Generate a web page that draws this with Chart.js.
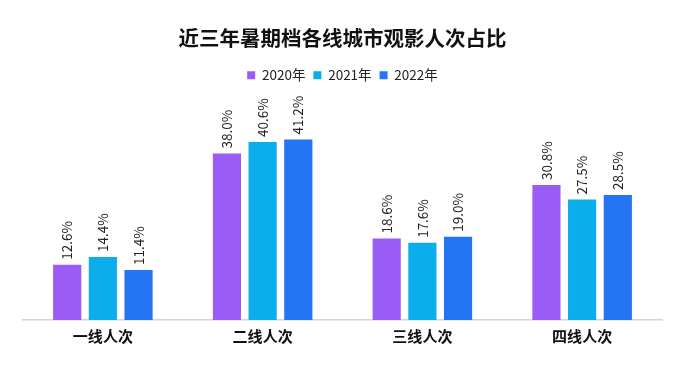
<!DOCTYPE html>
<html>
<head>
<meta charset="utf-8">
<script src="https://cdn.jsdelivr.net/npm/chart.js@4.4.1/dist/chart.umd.min.js"></script>
<style>
  body { margin: 0; background: #fff; }
  #wrap { width: 700px; height: 371px; }
</style>
</head>
<body>
<div id="wrap"><canvas id="chart" width="700" height="371"></canvas></div>
<script>
const categories = ["一线人次", "二线人次", "三线人次", "四线人次"];
const share2020 = [12.6, 38.0, 18.6, 30.8];
const share2021 = [14.4, 40.6, 17.6, 27.5];
const share2022 = [11.4, 41.2, 19.0, 28.5];

const fontFamily = "'Noto Sans CJK SC', 'Noto Sans', sans-serif";

// value labels drawn vertically above each bar
const barLabels = {
  id: "barLabels",
  afterDatasetsDraw(chart) {
    const ctx = chart.ctx;
    ctx.save();
    ctx.font = "13.5px " + fontFamily;
    ctx.fillStyle = "#222";
    ctx.textAlign = "left";
    ctx.textBaseline = "middle";
    chart.data.datasets.forEach((ds, i) => {
      chart.getDatasetMeta(i).data.forEach((bar, j) => {
        ctx.save();
        ctx.translate(bar.x, bar.y - 5);
        ctx.rotate(-Math.PI / 2);
        ctx.fillText(ds.data[j].toFixed(1) + "%", 0, 0);
        ctx.restore();
      });
    });
    ctx.restore();
  }
};

new Chart(document.getElementById("chart"), {
  type: "bar",
  data: {
    labels: categories,
    datasets: [
      { label: "2020年", data: share2020, backgroundColor: "#9b5cf6" },
      { label: "2021年", data: share2021, backgroundColor: "#0aaeea" },
      { label: "2022年", data: share2022, backgroundColor: "#2574f4" }
    ]
  },
  options: {
    responsive: false,
    animation: false,
    layout: { padding: { left: 23, right: 38, bottom: 19 } },
    categoryPercentage: 0.67,
    barPercentage: 0.79,
    plugins: {
      title: {
        display: true,
        text: "近三年暑期档各线城市观影人次占比",
        color: "#111",
        font: { family: fontFamily, size: 20.5, weight: "bold" },
        padding: { top: 26, bottom: 10 }
      },
      legend: {
        labels: {
          boxWidth: 8,
          boxHeight: 8,
          padding: 8,
          color: "#222",
          font: { family: fontFamily, size: 13.5 }
        }
      },
      tooltip: { enabled: false }
    },
    scales: {
      x: {
        grid: { display: false, drawTicks: false },
        border: { color: "#d4d4d8", width: 1.5 },
        ticks: {
          color: "#111",
          padding: 7,
          font: { family: fontFamily, size: 15, weight: "bold" }
        }
      },
      y: {
        display: false,
        min: 0,
        max: 52.0
      }
    }
  },
  plugins: [barLabels]
});
</script>
</body>
</html>
